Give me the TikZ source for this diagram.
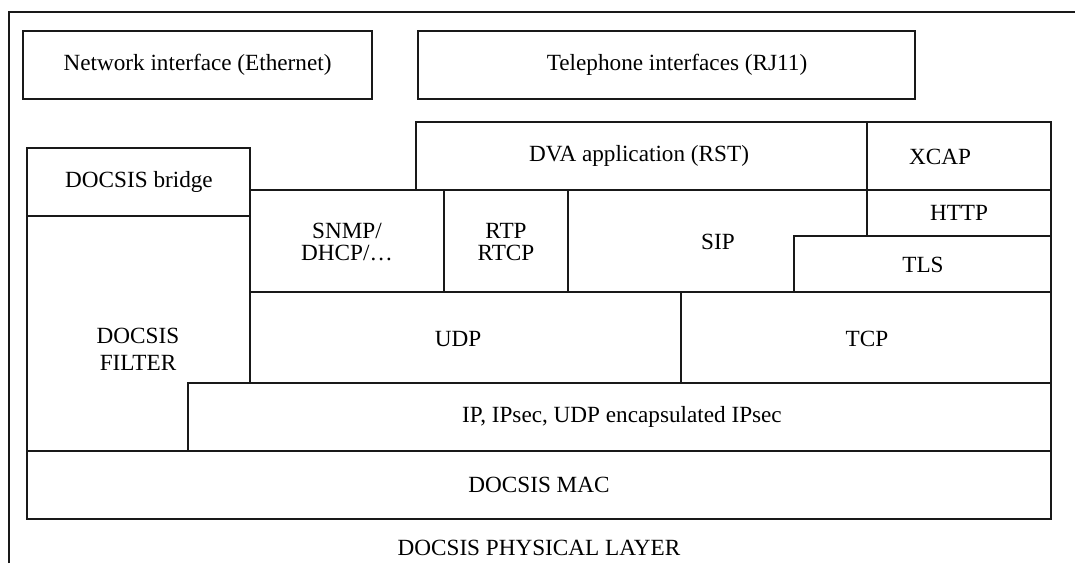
\documentclass[tikz,border=0pt]{standalone}
\usepackage{fontspec}
\setmainfont{Liberation Serif}
\begin{document}
\begin{tikzpicture}[x=0.5pt,y=-0.5pt,
  frame/.style={draw=black!90, line width=0.8pt},
  lbl/.style={inner sep=0pt, align=center, font=\fontsize{11.6}{11}\selectfont}]
\useasboundingbox (0,0) rectangle (1075,563);
% outer frame (top and left)
\draw[frame] (9,563) -- (9,12) -- (1075,12);
% top interface boxes
\draw[frame] (23,31) rectangle (372,99);
\node[lbl] (net) at (197.5,65) {Network interface (Ethernet)};
\draw[frame] (418,31) rectangle (915,99);
\node[lbl] (tel) at (677,65) {Telephone interfaces (RJ11)};
% application row
\draw[frame] (416,122) rectangle (867,190);
\node[lbl] (dva) at (639,156) {DVA application (RST)};
\draw[frame] (867,122) rectangle (1051,190);
\node[lbl] (xcap) at (940,157) {XCAP};
\draw[frame] (867,190) rectangle (1051,236);
\node[lbl] (http) at (959,213) {HTTP};
% bridge
\draw[frame] (27,148) rectangle (250,216);
\node[lbl] (bridge) at (139,182) {DOCSIS bridge};
% filter
\draw[frame] (27,216) -- (250,216) -- (250,383) -- (188,383) -- (188,451) -- (27,451) -- cycle;
\node[lbl, font=\fontsize{11.6}{13.5}\selectfont] (filter) at (138,349) {DOCSIS\\FILTER};
% protocol row
\draw[frame] (250,190) rectangle (444,292);
\node[lbl] (snmp) at (347,242) {SNMP/\\DHCP/\dots};
\draw[frame] (444,190) rectangle (568,292);
\node[lbl] (rtp) at (506,242) {RTP\\RTCP};
\draw[frame] (568,190) -- (867,190) -- (867,236) -- (794,236) -- (794,292) -- (568,292) -- cycle;
\node[lbl] (sip) at (718,242) {SIP};
\draw[frame] (794,236) rectangle (1051,292);
\node[lbl] (tls) at (923,265) {TLS};
% transport row
\draw[frame] (250,292) rectangle (681,383);
\node[lbl] (udp) at (458,339) {UDP};
\draw[frame] (681,292) rectangle (1051,383);
\node[lbl] (tcp) at (867,339) {TCP};
% IP row
\draw[frame] (188,383) rectangle (1051,451);
\node[lbl] (ip) at (622,417) {IP, IPsec, UDP encapsulated IPsec};
% MAC
\draw[frame] (27,451) rectangle (1051,519);
\node[lbl] (mac) at (539,485) {DOCSIS MAC};
\node[lbl] (phy) at (539,548) {DOCSIS PHYSICAL LAYER};
\end{tikzpicture}
\end{document}
